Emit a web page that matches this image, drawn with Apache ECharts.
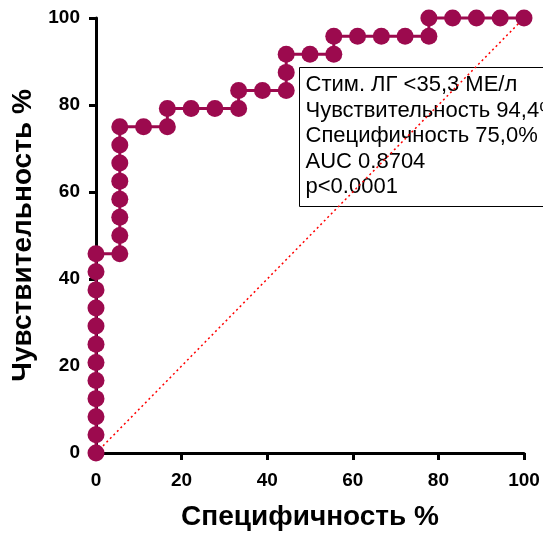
<!DOCTYPE html>
<html><head><meta charset="utf-8">
<script src="https://cdn.jsdelivr.net/npm/echarts@6/dist/echarts.min.js"></script>
<style>html,body{margin:0;padding:0;background:#fff}#c{width:543px;height:536px}</style>
</head><body><div id="c"></div>
<script>
var xVals = [0,0,0,0,0,0,0,0,0,0,0,0,
  5.56,5.56,5.56,5.56,5.56,5.56,5.56,5.56,
  11.11,16.67,16.67,22.22,27.78,33.33,33.33,38.89,44.44,44.44,44.44,50,55.56,55.56,
  61.11,66.67,72.22,77.78,77.78,83.33,88.89,94.44,100];
var yVals = [0,4.17,8.33,12.5,16.67,20.83,25,29.17,33.33,37.5,41.67,45.83,
  45.83,50,54.17,58.33,62.5,66.67,70.83,75,
  75,75,79.17,79.17,79.17,79.17,83.33,83.33,83.33,87.5,91.67,91.67,91.67,95.83,
  95.83,95.83,95.83,95.83,100,100,100,100,100];
var refLine = [[0,0],[100,100]];
var tickLabels = ['0','20','40','60','80','100'];
var xTitle = 'Специфичность %';
var yTitle = 'Чувствительность %';
var legendLines = ['Стим. ЛГ <35,3 МЕ/л','Чувствительность 94,4%','Специфичность 75,0%','AUC 0.8704','p<0.0001'];

var pts = xVals.map(function(x,i){return [x,yVals[i]];});
var chart = echarts.init(document.getElementById('c'));
var axisCommon = {
  min:0,max:100,interval:20,
  axisLine:{show:true,lineStyle:{color:'#000',width:3}},
  axisTick:{show:true,length:7,lineStyle:{color:'#000',width:3}},
  splitLine:{show:false},
  axisLabel:{color:'#000',fontFamily:'Liberation Sans, Arial',fontWeight:'bold',fontSize:19,
    formatter:function(v){return tickLabels[Math.round(v/20)];}},
  nameLocation:'middle',
  nameTextStyle:{color:'#000',fontFamily:'Liberation Sans, Arial',fontWeight:'bold',fontSize:28}
};
chart.setOption({
  animation:false,
  grid:{left:96,top:18,width:428,height:436,containLabel:false},
  xAxis:Object.assign({},axisCommon,{type:'value',name:xTitle,nameGap:50,
    axisLabel:Object.assign({},axisCommon.axisLabel,{margin:18})}),
  yAxis:Object.assign({},axisCommon,{type:'value',name:yTitle,nameGap:56,
    axisLabel:Object.assign({},axisCommon.axisLabel,{margin:16})}),
  graphic:[{
    type:'group',left:297,top:65,z:1,
    children:[
      {type:'rect',shape:{x:0,y:0,width:300,height:139},style:{fill:'none',stroke:'#000',lineWidth:1}},
      {type:'text',x:6,y:5,style:{text:legendLines.join('\n'),fill:'#000',font:'22px "Liberation Sans", Arial',lineHeight:25.5}}
    ]
  }],
  series:[
    {type:'line',data:refLine,symbol:'none',z:1,silent:true,
      lineStyle:{color:'#ff0000',width:1.5,type:[2,3]}},
    {type:'line',data:pts,symbol:'circle',symbolSize:17,z:3,clip:false,
      itemStyle:{color:'#9C0A4E'},lineStyle:{color:'#9C0A4E',width:3}}
  ]
});
</script></body></html>
